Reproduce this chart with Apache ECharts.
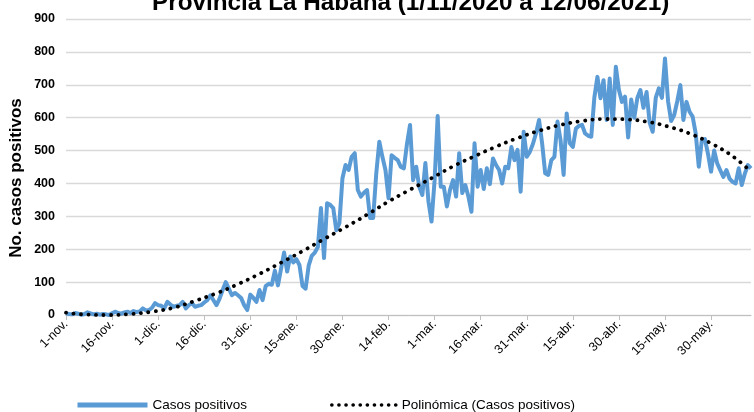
<!DOCTYPE html>
<html>
<head>
<meta charset="utf-8">
<script src="https://cdn.jsdelivr.net/npm/echarts@6/dist/echarts.min.js"></script>
<style>
html,body{margin:0;padding:0;background:#fff;}
#chart{width:754px;height:412px;}
</style>
</head>
<body>
<div id="chart"></div>
<script>
// Daily positive cases, 1 Nov 2020 -> 12 Jun 2021 (224 days)
const startDate = [2020, 10, 1]; // year, month index (0-based), day
const dayCount = 224;
const monthAbbr = ['ene.','feb.','mar.','abr.','may.','jun.','jul.','ago.','sep.','oct.','nov.','dic.'];

const casos = [
  5, 3, 2, 6, 4, 1, 3, 8, 5, 2,
  4, 1, 3, 2, 0, 5, 10, 6, 4, 8,
  10, 6, 12, 9, 11, 20, 14, 15, 22, 36,
  30, 28, 20, 40, 32, 25, 28, 30, 40, 20,
  30, 36, 25, 28, 30, 38, 45, 60, 45, 30,
  50, 76, 100, 80, 60, 67, 60, 52, 30, 15,
  62, 52, 40, 76, 45, 88, 95, 92, 135, 90,
  140, 190, 132, 178, 160, 170, 152, 88, 80, 150,
  180, 190, 207, 325, 173, 340, 335, 325, 258, 279,
  416, 456, 441, 481, 492, 380, 360, 372, 380, 295,
  295, 430, 527, 481, 441, 355, 486, 478, 471, 450,
  446, 520, 578, 410, 451, 390, 365, 462, 345, 284,
  410, 605, 390, 390, 330, 380, 410, 360, 492, 371,
  395, 360, 314, 522, 390, 441, 383, 446, 398, 476,
  456, 441, 400, 451, 446, 511, 471, 502, 375, 557,
  481, 496, 520, 552, 593, 522, 431, 426, 471, 481,
  588, 532, 426, 613, 522, 511, 567, 575, 578, 552,
  545, 542, 661, 724, 659, 714, 593, 719, 578, 755,
  684, 648, 664, 540, 655, 600, 660, 684, 630, 678,
  585, 557, 661, 689, 660, 780, 650, 590, 608, 650,
  699, 593, 648, 618, 603, 552, 451, 532, 535, 490,
  436, 500, 461, 440, 420, 441, 415, 405, 400, 446,
  395, 430, 456, 446
];

// Polynomial trendline at sample days
const trendDays   = [0, 7, 14, 21, 28, 35, 42, 49, 56, 63, 70, 77, 84, 91, 98, 105, 112, 119, 126, 133, 140, 147, 154, 161, 168, 175, 182, 189, 196, 203, 210, 217, 223];
const trendValues = [7, 1, 0, 3, 10, 22, 43, 66, 94, 125, 159, 194, 231, 267, 305, 345, 381, 416, 452, 483, 512, 538, 560, 578, 590, 596, 595, 588, 573, 552, 522, 483, 436];

const yTicks = {min: 0, max: 900, interval: 100};
const titleText = 'Provincia La Habana (1/11/2020 a 12/06/2021)';
const yTitle = 'No. casos positivos';
const seriesNames = ['Casos positivos', 'Polinómica (Casos positivos)'];

// build category labels
const categories = [];
for (let i = 0; i < dayCount; i++) {
  const d = new Date(startDate[0], startDate[1], startDate[2] + i);
  categories.push(d.getDate() + '-' + monthAbbr[d.getMonth()]);
}
const trendSeries = new Array(dayCount).fill(null);
trendDays.forEach((d, k) => { trendSeries[d] = trendValues[k]; });

const FONT = '"Liberation Sans", Arial, sans-serif';
const chart = echarts.init(document.getElementById('chart'));
chart.setOption({
  animation: false,
  backgroundColor: '#fff',
  graphic: [{
    type: 'text',
    left: 152, top: -9,
    style: {text: titleText, font: 'bold 24.3px ' + FONT, fill: '#000'}
  }, {
    type: 'text',
    x: 16, y: 178,
    rotation: Math.PI / 2,
    style: {text: yTitle, font: 'bold 17px ' + FONT, fill: '#000', align: 'center', verticalAlign: 'middle'}
  }],
  grid: {left: 66, right: 3, top: 19, bottom: 97, containLabel: false},
  legend: [{
    data: [seriesNames[0]],
    left: 75, top: 398, padding: 0,
    itemWidth: 70, itemHeight: 12,
    itemStyle: {opacity: 0},
    lineStyle: {width: 5},
    textStyle: {fontFamily: FONT, fontSize: 13.5, color: '#000'}
  }, {
    data: [seriesNames[1]],
    left: 330, top: 398, padding: 0,
    itemWidth: 65, itemHeight: 12,
    itemStyle: {opacity: 0},
    lineStyle: {width: 3.6, type: [0.1, 7], cap: 'round', color: '#000'},
    textStyle: {fontFamily: FONT, fontSize: 13.5, color: '#000'}
  }],
  xAxis: {
    type: 'category',
    data: categories,
    boundaryGap: false,
    axisLine: {lineStyle: {color: '#BFBFBF', width: 1}},
    axisTick: {show: true, interval: 14, length: 5, lineStyle: {color: '#BFBFBF'}},
    axisLabel: {interval: 14, rotate: 45, margin: 7, fontFamily: FONT, fontSize: 12.5, color: '#000'},
    splitLine: {show: false}
  },
  yAxis: {
    type: 'value',
    min: yTicks.min, max: yTicks.max, interval: yTicks.interval,
    axisLine: {show: false},
    axisTick: {show: false},
    axisLabel: {margin: 11, fontFamily: FONT, fontWeight: 'bold', fontSize: 12.5, color: '#000'},
    splitLine: {lineStyle: {color: '#D9D9D9', width: 1.3}}
  },
  series: [{
    name: seriesNames[0],
    type: 'line',
    data: casos,
    showSymbol: false,
    symbol: 'none',
    lineStyle: {color: '#5B9BD5', width: 4, join: 'round'},
    itemStyle: {color: '#5B9BD5'},
    z: 2
  }, {
    name: seriesNames[1],
    type: 'line',
    data: trendSeries,
    connectNulls: true,
    smooth: 0.4,
    showSymbol: false,
    symbol: 'none',
    lineStyle: {color: '#000', width: 3.8, type: [0.1, 7.4], cap: 'round'},
    itemStyle: {color: '#000'},
    z: 3
  }]
});
</script>
</body>
</html>
